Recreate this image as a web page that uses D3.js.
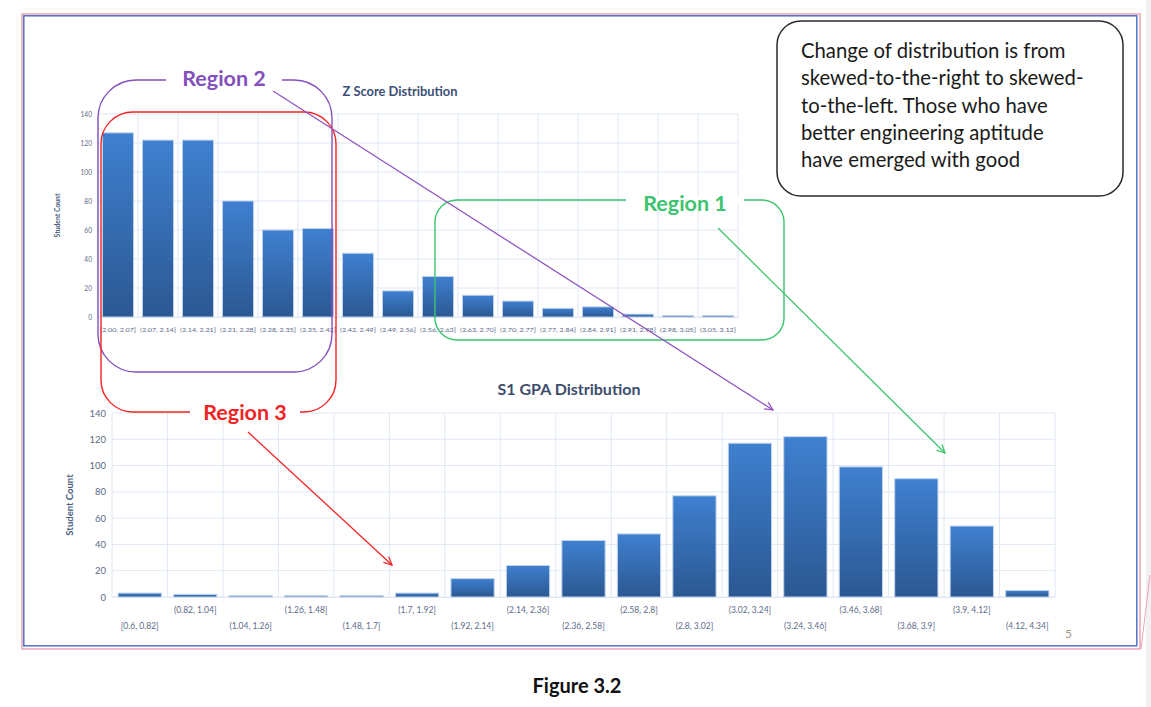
<!DOCTYPE html>
<html>
<head>
<meta charset="utf-8">
<script src="https://cdn.jsdelivr.net/npm/d3@7"></script>
<style>
  body { margin: 0; background: #fff; }
  svg { display: block; }
</style>
</head>
<body>
<div id="chart"></div>
<script>
var zCategories = ["[2.00, 2.07]", "(2.07, 2.14]", "(2.14, 2.21]", "(2.21, 2.28]", "(2.28, 2.35]", "(2.35, 2.42]",
    "(2.42, 2.49]", "(2.49, 2.56]", "(2.56, 2.63]", "(2.63, 2.70]", "(2.70, 2.77]", "(2.77, 2.84]",
    "(2.84, 2.91]", "(2.91, 2.98]", "(2.98, 3.05]", "(3.05, 3.12]"];
var zCounts = [127, 122, 122, 80, 60, 61, 44, 18, 28, 15, 11, 6, 7, 2, 1, 1];

var gpaCategories = ["[0.6, 0.82]", "(0.82, 1.04]", "(1.04, 1.26]", "(1.26, 1.48]", "(1.48, 1.7]", "(1.7, 1.92]",
    "(1.92, 2.14]", "(2.14, 2.36]", "(2.36, 2.58]", "(2.58, 2.8]", "(2.8, 3.02]", "(3.02, 3.24]",
    "(3.24, 3.46]", "(3.46, 3.68]", "(3.68, 3.9]", "(3.9, 4.12]", "(4.12, 4.34]"];
var gpaCounts = [3, 2, 1, 1, 1, 3, 14, 24, 43, 48, 77, 117, 122, 99, 90, 54, 5];

var yTicks = [0, 20, 40, 60, 80, 100, 120, 140];

var noteLines = ["Change of distribution is from", "skewed-to-the-right to skewed-",
    "to-the-left. Those who have", "better engineering aptitude", "have emerged with good"];

function init() {
    var w = 1151;
    var h = 707;
    var svg = d3.select("#chart").append("svg")
        .attr("width", w)
        .attr("height", h);

    var defs = svg.append("defs");
    var grad = defs.append("linearGradient")
        .attr("id", "barGrad")
        .attr("x1", 0).attr("y1", 0).attr("x2", 0).attr("y2", 1);
    grad.append("stop").attr("offset", "0%").attr("stop-color", "#3f80d0");
    grad.append("stop").attr("offset", "100%").attr("stop-color", "#2b5892");

    // slide frame
    svg.append("rect").attr("x", 1146).attr("y", 0).attr("width", 5).attr("height", h).attr("fill", "#f1f1f1");
    svg.append("rect").attr("x", 22).attr("y", 14).attr("width", 1118).attr("height", 635)
        .attr("fill", "none").attr("stroke", "#eaa3b3").attr("stroke-width", 1.5);
    svg.append("rect").attr("x", 23.8).attr("y", 15.8).attr("width", 1113).attr("height", 630)
        .attr("fill", "none").attr("stroke", "#4d74c6").attr("stroke-width", 1.5);
    svg.append("line").attr("x1", 1141).attr("y1", 649).attr("x2", 1150).attr("y2", 575)
        .attr("stroke", "#eaa3b3").attr("stroke-width", 1);

    // ---------- Z score chart ----------
    var zx = d3.scaleBand().domain(zCategories).range([98, 738]).paddingInner(0.22).paddingOuter(0.11);
    var zy = d3.scaleLinear().domain([0, 140]).range([317, 114]);
    drawChart(svg, zx, zy, zCategories, zCounts, {
        tickFont: "6.6px", labelX: 60, labelSize: "6.8px", stagger: false, xLabelY: 334,
        xFont: "6.3px", xFit: 36
    });
    svg.append("text")
        .attr("x", 400).attr("y", 96)
        .attr("text-anchor", "middle")
        .attr("textLength", 115)
        .attr("lengthAdjust", "spacingAndGlyphs")
        .style("font-family", "Lato, sans-serif")
        .style("font-weight", "bold")
        .style("font-size", "14px")
        .attr("fill", "#3d4f78")
        .text("Z Score Distribution");

    // ---------- GPA chart ----------
    var gx = d3.scaleBand().domain(gpaCategories).range([112, 1055]).paddingInner(0.22).paddingOuter(0.11);
    var gy = d3.scaleLinear().domain([0, 140]).range([597, 413]);
    drawChart(svg, gx, gy, gpaCategories, gpaCounts, {
        tickFont: "9.5px", labelX: 73, labelSize: "9.5px", stagger: true, xLabelY: 619,
        xFont: "8.5px", xFit: 0
    });
    svg.append("text")
        .attr("x", 569).attr("y", 395)
        .attr("text-anchor", "middle")
        .style("font-family", "Lato, sans-serif")
        .style("font-weight", "bold")
        .style("font-size", "16px")
        .attr("fill", "#3d4d6e")
        .text("S1 GPA Distribution");

    // ---------- annotations ----------
    region(svg, 98, 80, 234, 292, 38, "#8450bd", "Region 2", 224, 86, 116, "top");
    region(svg, 101, 112, 235, 300, 32, "#f02424", "Region 3", 245, 420, 110, "bottom");
    region(svg, 435, 200, 349, 140, 22, "#3cc46e", "Region 1", 685, 211, 118, "top");

    arrow(svg, 273, 91, 773, 410, "#9055c0");
    arrow(svg, 718, 228, 945, 453, "#3cc46e");
    arrow(svg, 248, 432, 392, 565, "#f02424");

    // note box
    svg.append("rect")
        .attr("x", 777).attr("y", 21).attr("width", 346).attr("height", 175)
        .attr("rx", 24).attr("ry", 24)
        .attr("fill", "#fff").attr("stroke", "#2b2b2b").attr("stroke-width", 1.5);
    svg.append("g").selectAll("text")
        .data(noteLines)
        .enter()
        .append("text")
        .attr("x", 801)
        .attr("y", function(d, i) { return 58 + i * 27.3; })
        .style("font-family", "Lato, sans-serif")
        .style("font-size", "20.3px")
        .attr("fill", "#1a1a1a")
        .text(function(d) { return d; });

    svg.append("text")
        .attr("x", 1065).attr("y", 638)
        .style("font-family", "Lato, sans-serif")
        .style("font-size", "12px")
        .attr("fill", "#a89580")
        .text("5");

    svg.append("text")
        .attr("x", 577).attr("y", 693)
        .attr("text-anchor", "middle")
        .style("font-family", "Lato, sans-serif")
        .style("font-weight", "bold")
        .style("font-size", "20px")
        .attr("fill", "#111")
        .text("Figure 3.2");
}

function drawChart(svg, x, y, cats, counts, o) {
    var left = x.range()[0], right = x.range()[1];
    var g = svg.append("g");

    // grid
    g.append("g").selectAll("line.h")
        .data(yTicks)
        .enter()
        .append("line")
        .attr("x1", left).attr("x2", right)
        .attr("y1", function(d) { return y(d); })
        .attr("y2", function(d) { return y(d); })
        .attr("stroke", "#dfe8f4").attr("stroke-width", 1);
    g.append("g").selectAll("line.v")
        .data(cats)
        .enter()
        .append("line")
        .attr("x1", function(d) { return x(d) - x.step() * x.paddingInner() / 2; })
        .attr("x2", function(d) { return x(d) - x.step() * x.paddingInner() / 2; })
        .attr("y1", y(140)).attr("y2", y(0))
        .attr("stroke", "#dfe8f4").attr("stroke-width", 1);
    g.append("line").attr("x1", right).attr("x2", right).attr("y1", y(140)).attr("y2", y(0))
        .attr("stroke", "#dfe8f4");

    // y axis
    var yAxis = g.append("g")
        .attr("transform", "translate(" + (left - 4) + ",0)")
        .call(d3.axisLeft(y).tickValues(yTicks).tickSize(0).tickPadding(2));
    yAxis.select(".domain").remove();
    yAxis.selectAll("text")
        .style("font-family", "Lato, sans-serif")
        .style("font-size", o.tickFont)
        .attr("fill", "#5b6b88");

    g.append("text")
        .attr("transform", "translate(" + o.labelX + "," + ((y(0) + y(140)) / 2) + ") rotate(-90)")
        .attr("text-anchor", "middle")
        .style("font-family", "Lato, sans-serif")
        .style("font-weight", "bold")
        .style("font-size", o.labelSize)
        .attr("fill", "#4a5d80")
        .text("Student Count");

    // x axis
    var xAxis = g.append("g")
        .attr("transform", "translate(0," + y(0) + ")")
        .call(d3.axisBottom(x).tickSize(0).tickPadding(o.xLabelY - y(0) - 6));
    xAxis.select(".domain").attr("stroke", "#dfe8f4");
    var xt = xAxis.selectAll("text")
        .style("font-family", "Lato, sans-serif")
        .style("font-size", o.xFont)
        .attr("fill", "#5b6b88")
        .attr("dy", function(d, i) { return o.stagger ? (i % 2 === 0 ? "1.9em" : "0em") : "0.71em"; });
    if (o.xFit) {
        xt.attr("textLength", o.xFit).attr("lengthAdjust", "spacingAndGlyphs");
    }

    // bars
    g.append("g").selectAll("rect")
        .data(counts)
        .enter()
        .append("rect")
        .attr("x", function(d, i) { return x(cats[i]); })
        .attr("y", function(d) { return y(d); })
        .attr("width", x.bandwidth())
        .attr("height", function(d) { return y(0) - y(d); })
        .attr("fill", "url(#barGrad)")
        .attr("stroke", "#c2d4ec")
        .attr("stroke-width", 1);
}

function region(svg, x, y, w, h, r, color, label, lx, ly, gap, side) {
    svg.append("rect")
        .attr("x", x).attr("y", y).attr("width", w).attr("height", h)
        .attr("rx", r).attr("ry", r)
        .attr("fill", "none").attr("stroke", color).attr("stroke-width", 1.4);
    var edge = side === "top" ? y : y + h;
    svg.append("rect")
        .attr("x", lx - gap / 2).attr("y", edge - 4).attr("width", gap).attr("height", 8)
        .attr("fill", "#fff");
    svg.append("text")
        .attr("x", lx).attr("y", ly)
        .attr("text-anchor", "middle")
        .style("font-family", "Lato, sans-serif")
        .style("font-weight", "bold")
        .style("font-size", "21.5px")
        .attr("fill", color)
        .text(label);
}

function arrow(svg, x1, y1, x2, y2, color) {
    var a = Math.atan2(y2 - y1, x2 - x1);
    var len = 9, spread = 0.45;
    svg.append("line")
        .attr("x1", x1).attr("y1", y1).attr("x2", x2).attr("y2", y2)
        .attr("stroke", color).attr("stroke-width", 1.3);
    var p = d3.path();
    p.moveTo(x2 - len * Math.cos(a - spread), y2 - len * Math.sin(a - spread));
    p.lineTo(x2, y2);
    p.lineTo(x2 - len * Math.cos(a + spread), y2 - len * Math.sin(a + spread));
    svg.append("path").attr("d", p.toString())
        .attr("fill", "none").attr("stroke", color).attr("stroke-width", 1.3);
}

window.onload = init;
</script>
</body>
</html>
